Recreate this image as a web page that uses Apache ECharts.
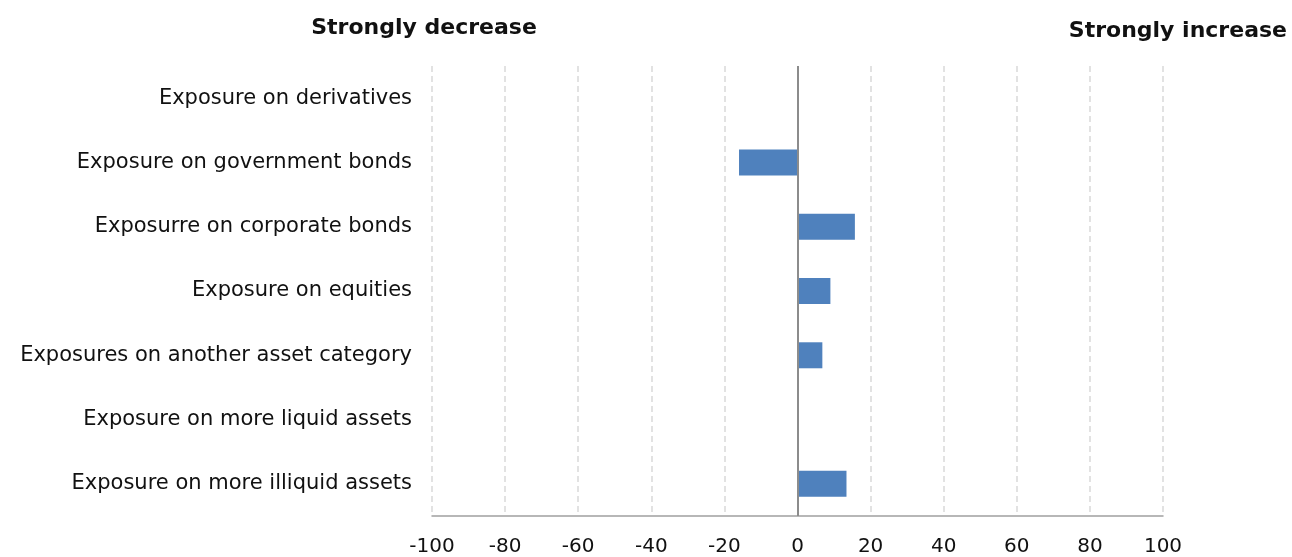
<!DOCTYPE html>
<html><head><meta charset="utf-8">
<script src="https://cdn.jsdelivr.net/npm/echarts@6/dist/echarts.min.js"></script>
<style>html,body{margin:0;padding:0;background:#fff}#c{width:1292px;height:557px}</style>
</head><body><div id="c"></div>
<script>
const categories = [
  "Exposure on derivatives",
  "Exposure on government bonds",
  "Exposurre on corporate bonds",
  "Exposure on equities",
  "Exposures on another asset category",
  "Exposure on more liquid assets",
  "Exposure on more illiquid assets"
];
const values = [0, -16, 15.7, 9, 6.8, 0, 13.4];
const xTicks = { min: -100, max: 100, interval: 20 };
const leftTitle = "Strongly decrease";
const rightTitle = "Strongly increase";

const font = "'DejaVu Sans', Verdana, sans-serif";
const chart = echarts.init(document.getElementById('c'), null, { renderer: 'canvas' });
chart.setOption({
  animation: false,
  backgroundColor: '#fff',
  title: [
    { text: leftTitle, left: 419, top: 12, textAlign: 'center',
      textStyle: { fontFamily: font, fontSize: 22, fontWeight: 'bold', color: '#111' } },
    { text: rightTitle, right: 0, top: 15,
      textStyle: { fontFamily: font, fontSize: 22, fontWeight: 'bold', color: '#111' } }
  ],
  grid: { left: 432, right: 129, top: 66, bottom: 41, containLabel: false },
  xAxis: {
    type: 'value', min: xTicks.min, max: xTicks.max, interval: xTicks.interval,
    axisLine: { show: true, onZero: false, lineStyle: { color: '#a0a0a0', width: 1.5 } },
    axisTick: { show: false },
    axisLabel: { fontFamily: font, fontSize: 20, color: '#111', margin: 21 },
    splitLine: { show: true, lineStyle: { color: '#d9d9d9', type: [6, 4], width: 1.5 } }
  },
  yAxis: {
    type: 'category', data: categories, inverse: true,
    axisLine: { show: false, onZero: false },
    axisTick: { show: false },
    axisLabel: { fontFamily: font, fontSize: 21, color: '#111', margin: 20 },
    splitLine: { show: false }
  },
  series: [{
    type: 'bar', data: values, barWidth: 26,
    itemStyle: { color: '#4f81bd' },
    markLine: {
      silent: true, symbol: 'none', label: { show: false },
      lineStyle: { color: '#8c8c8c', type: 'solid', width: 2 },
      data: [{ xAxis: 0 }]
    }
  }]
});
</script></body></html>
